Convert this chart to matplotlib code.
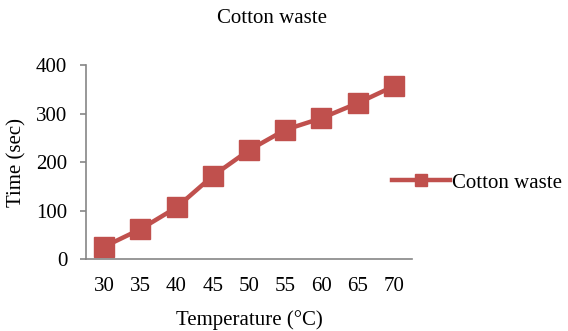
import matplotlib.pyplot as plt

temps = [30, 35, 40, 45, 50, 55, 60, 65, 70]
times = [26, 62, 107, 172, 225, 267, 291, 322, 357]
y_ticks = [0, 100, 200, 300, 400]
series_name = "Cotton waste"

plt.rcParams['font.family'] = ['Liberation Serif', 'DejaVu Serif']

red = "#C0504D"
axis_grey = "#868686"
fs = 15

fig = plt.figure(figsize=(5.68, 3.31), dpi=100)
ax = fig.add_axes([0.1514, 0.2166, 0.574, 0.5861])

ax.plot(temps, times, color=red, lw=3.2, marker="s", ms=14,
        markerfacecolor=red, markeredgecolor=red, label=series_name)

ax.set_xlim(27.5, 72.5)
ax.set_ylim(0, 400)
ax.set_xticks(temps)
ax.set_yticks(y_ticks)

for side in ["top", "right"]:
    ax.spines[side].set_visible(False)
for side in ["left", "bottom"]:
    ax.spines[side].set_color(axis_grey)
    ax.spines[side].set_linewidth(1.2)

ax.tick_params(axis="y", length=4.5, width=1.2, color=axis_grey, labelsize=fs, pad=9)
ax.tick_params(axis="x", length=0, labelsize=fs, pad=13)

ax.set_xlabel("Temperature (°C)", fontsize=fs, labelpad=10)
ax.set_ylabel("Time (sec)", fontsize=fs, labelpad=7)
fig.text(0.479, 0.943, "Cotton waste", fontsize=fs, ha="center", va="center")

ax.legend(loc="center left", bbox_to_anchor=(392 / 568, 1 - 183 / 331),
          bbox_transform=fig.transFigure, frameon=False, borderpad=0,
          borderaxespad=0, fontsize=fs, handlelength=2.8, handletextpad=0.1,
          markerscale=0.6)

fig.savefig("out.png", dpi=100)
